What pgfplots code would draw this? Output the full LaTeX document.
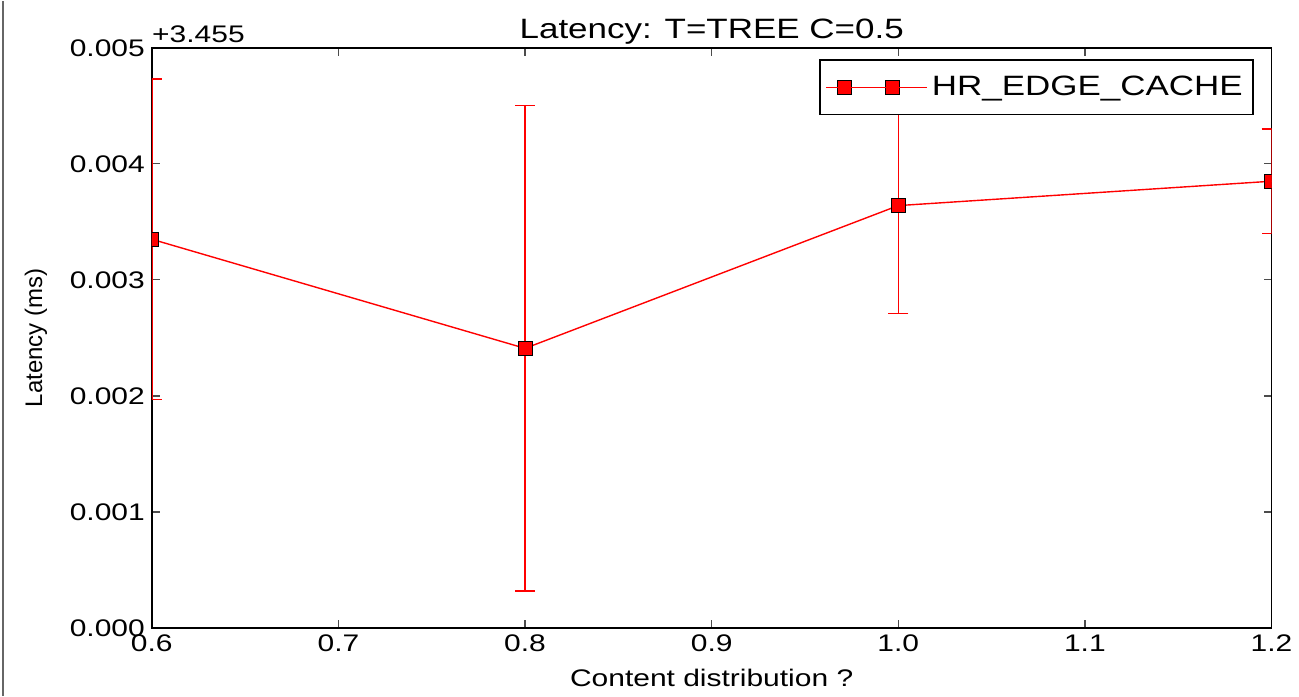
\documentclass[border=0pt]{standalone}
\usepackage{fontspec}
\setmainfont[FakeStretch=1.25]{Liberation Sans}
\newfontfamily\ylfont{Liberation Sans}
\usepackage{pgfplots}
\pgfplotsset{compat=1.18}
\begin{document}
\begin{tikzpicture}
\begin{axis}[
  at={(0,0)}, anchor=south west,
  scale only axis,
  width=560.5pt, height=290.5pt,
  xmin=0.6, xmax=1.2, ymin=0, ymax=0.005,
  xtick={0.6,0.7,0.8,0.9,1.0,1.1,1.2},
  ytick={0,0.001,0.002,0.003,0.004,0.005},
  scaled ticks=false,
  /pgf/number format/assume math mode=true,
  xticklabel style={/pgf/number format/.cd,fixed,fixed zerofill,precision=1},
  yticklabel style={/pgf/number format/.cd,fixed,fixed zerofill,precision=3},
  tick label style={font=\fontsize{12}{14}\selectfont},
  tick align=inside,
  major tick length=4pt,
  tick style={black!70, line width=0.6pt},
  axis line style={black, line width=0.9pt},
  xlabel={Content distribution ?},
  xlabel style={font=\fontsize{12}{14}\selectfont, at={([yshift=-25pt]axis description cs:0.5,0)}, anchor=center},
  legend style={at={(0.984,0.98)}, anchor=north east, draw=black, line width=0.8pt,
    font=\fontsize{14}{16}\selectfont, inner xsep=3pt, inner ysep=6pt,
    legend cell align=left, column sep=0pt},
  legend image code/.code={\draw[#1, line width=0.6pt] plot coordinates {(0pt,0pt) (24pt,0pt)}; \path (-9pt,0pt) -- (41.5pt,0pt);},
  clip mode=individual,
  clip marker paths=true,
]
\addplot[forget plot, draw=none, mark=none,
  error bars/.cd, y dir=both, y explicit,
  error bar style={draw=red, line width=0.7pt},
  error mark=-,
  error mark options={draw=red, rotate=90, mark size=5pt, line width=0.7pt}]
  coordinates {
  (0.6,0.00335) +- (0,0.00138)
  (0.8,0.00241) +- (0,0.00209)
  (1.0,0.00364) +- (0,0.00093)
  (1.2,0.00385) +- (0,0.00045)
  };
\addplot[red, line width=0.7pt, mark=square*, mark size=3.5pt,
  mark options={fill=red, draw=black, line width=0.4pt}]
  coordinates {
  (0.6,0.00335)
  (0.8,0.00241)
  (1.0,0.00364)
  (1.2,0.00385)
  };
\addlegendentry{HR\_EDGE\_CACHE}
\node[anchor=base west, font=\fontsize{12}{14}\selectfont, inner sep=0pt, yshift=2.5pt] at (rel axis cs:0,1) {+3.455};
\node[anchor=base, font=\fontsize{14}{16}\selectfont, inner sep=0pt, yshift=4.5pt] at (rel axis cs:0.5,1) {Latency: T=TREE C=0.5};
\node[rotate=90, anchor=center, font=\ylfont\fontsize{12}{14}\selectfont, inner sep=0pt, xscale=1.0] at ([xshift=-58pt]rel axis cs:0,0.5) {Latency (ms)};
\end{axis}
\draw[black!60, line width=0.8pt] (-74.5pt,-34pt) -- (-74.5pt,314pt);
\path (-76pt,-34pt) rectangle (573.5pt,314pt);
\end{tikzpicture}
\end{document}
